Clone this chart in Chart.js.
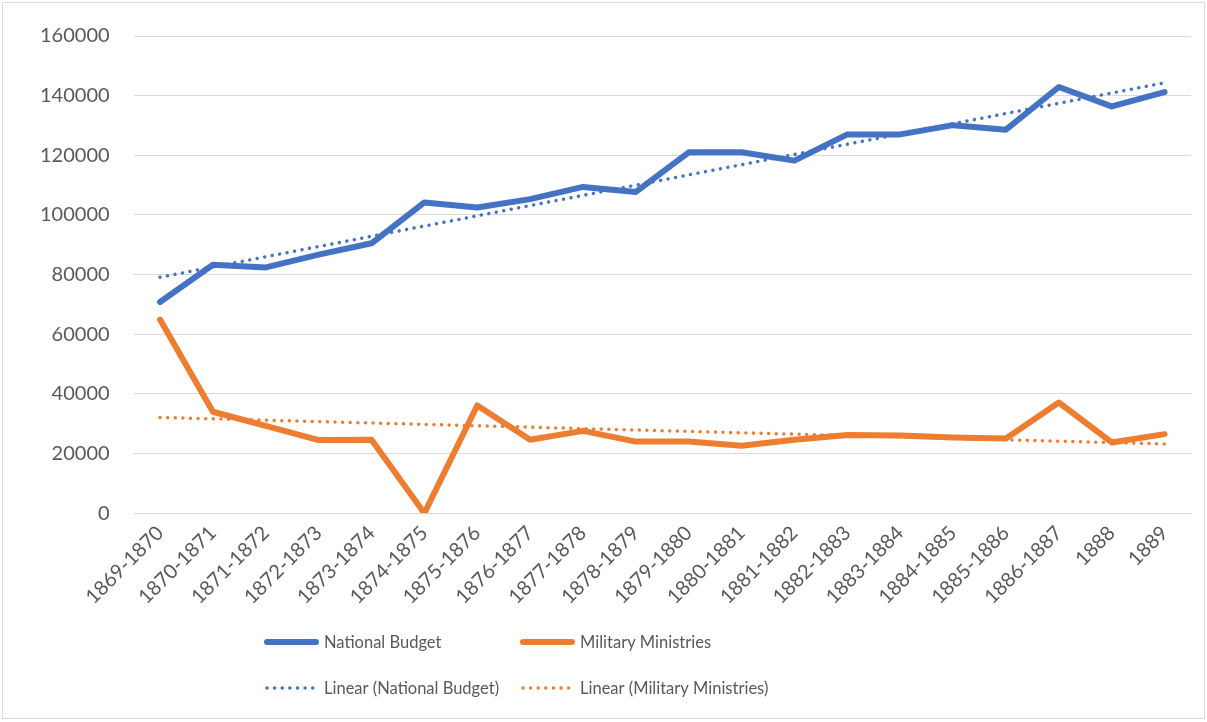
<!DOCTYPE html>
<html>
<head>
<meta charset="utf-8">
<script src="https://cdn.jsdelivr.net/npm/chart.js@4/dist/chart.umd.min.js"></script>
<style>
  html, body { margin: 0; padding: 0; background: #ffffff; }
  #wrap { position: relative; width: 1207px; height: 722px; }
  #wrap canvas { position: absolute; left: 0; top: 0; }
  #frame { position: absolute; left: 2px; top: 2px; width: 1203px; height: 717px;
           border: 1px solid #d9d9d9; box-sizing: border-box; pointer-events: none; }
</style>
</head>
<body>
<div id="wrap">
  <canvas id="budget" width="1207" height="722"></canvas>
  <div id="frame"></div>
</div>
<script>
// Fiscal years on the category axis
const categories = [
  '1869-1870', '1870-1871', '1871-1872', '1872-1873', '1873-1874',
  '1874-1875', '1875-1876', '1876-1877', '1877-1878', '1878-1879',
  '1879-1880', '1880-1881', '1881-1882', '1882-1883', '1883-1884',
  '1884-1885', '1885-1886', '1886-1887', '1888', '1889'
];

// Expenditure per year
const nationalBudget = [
  70800, 83300, 82400, 86700, 90500,
  104200, 102500, 105300, 109400, 107700,
  121000, 121000, 118200, 127000, 127000,
  130100, 128600, 142900, 136400, 141200
];
const militaryMinistries = [
  64900, 34000, 29300, 24500, 24600,
  0, 36100, 24600, 27600, 24000,
  24000, 22600, 24600, 26200, 26000,
  25400, 25000, 37100, 23700, 26500
];

// Linear trend lines: value at the first and last year, straight between
const nationalTrendEnds = [79100, 144300];
const militaryTrendEnds = [32100, 23200];

// Value axis
const yMin = 0;
const yMax = 160000;
const yStep = 20000;

function trendSeries(ends) {
  const s = categories.map(() => null);
  s[0] = ends[0];
  s[s.length - 1] = ends[1];
  return s;
}

const BLUE = '#4472C4';
const ORANGE = '#ED7D31';
const TEXT = '#595959';
const FONT = 'Lato, "Open Sans", sans-serif';
const DOTS = [0.01, 7.6];

// Two-column legend laid out in a grid beneath the axis labels
const gridLegend = {
  id: 'gridLegend',
  afterDraw(chart) {
    const ctx = chart.ctx;
    const cols = [265, 521];
    const rows = [642, 688];
    const sampleLen = 53;
    chart.data.datasets.forEach((ds, i) => {
      const x = cols[i % 2];
      const y = rows[Math.floor(i / 2)];
      ctx.save();
      ctx.strokeStyle = ds.borderColor;
      ctx.lineWidth = ds.borderWidth;
      ctx.lineCap = 'round';
      ctx.setLineDash(ds.borderDash || []);
      ctx.beginPath();
      ctx.moveTo(x + 2, y);
      ctx.lineTo(x + sampleLen - 2, y);
      ctx.stroke();
      ctx.setLineDash([]);
      ctx.fillStyle = TEXT;
      ctx.font = '16.5px ' + FONT;
      ctx.textBaseline = 'middle';
      ctx.textAlign = 'left';
      ctx.fillText(ds.label, x + sampleLen + 6, y + 1);
      ctx.restore();
    });
  }
};

new Chart(document.getElementById('budget'), {
  type: 'line',
  data: {
    labels: categories,
    datasets: [
      {
        label: 'National Budget',
        data: nationalBudget,
        borderColor: BLUE,
        borderWidth: 6,
        borderJoinStyle: 'round',
        borderCapStyle: 'round',
        pointRadius: 0,
        order: 2
      },
      {
        label: 'Military Ministries',
        data: militaryMinistries,
        borderColor: ORANGE,
        borderWidth: 6,
        borderJoinStyle: 'round',
        borderCapStyle: 'round',
        pointRadius: 0,
        order: 3
      },
      {
        label: 'Linear (National Budget)',
        data: trendSeries(nationalTrendEnds),
        borderColor: BLUE,
        borderWidth: 3.5,
        borderDash: DOTS,
        borderCapStyle: 'round',
        spanGaps: true,
        pointRadius: 0,
        order: 0
      },
      {
        label: 'Linear (Military Ministries)',
        data: trendSeries(militaryTrendEnds),
        borderColor: ORANGE,
        borderWidth: 3.5,
        borderDash: DOTS,
        borderCapStyle: 'round',
        spanGaps: true,
        pointRadius: 0,
        order: 1
      }
    ]
  },
  options: {
    responsive: false,
    animation: false,
    layout: { padding: { left: 16, right: 16, top: 21, bottom: 105 } },
    plugins: {
      legend: { display: false },
      tooltip: { enabled: false }
    },
    scales: {
      x: {
        offset: true,
        grid: { display: false, drawTicks: false },
        border: { display: false },
        ticks: {
          color: TEXT,
          font: { family: FONT, size: 20 },
          minRotation: 45,
          maxRotation: 45,
          padding: 8,
          autoSkip: false
        }
      },
      y: {
        min: yMin,
        max: yMax,
        grid: { color: '#d9d9d9', lineWidth: 1, drawTicks: false },
        border: { display: false },
        ticks: {
          stepSize: yStep,
          color: TEXT,
          font: { family: FONT, size: 20 },
          padding: 24,
          callback: (v) => String(v)
        }
      }
    }
  },
  plugins: [gridLegend]
});
</script>
</body>
</html>
